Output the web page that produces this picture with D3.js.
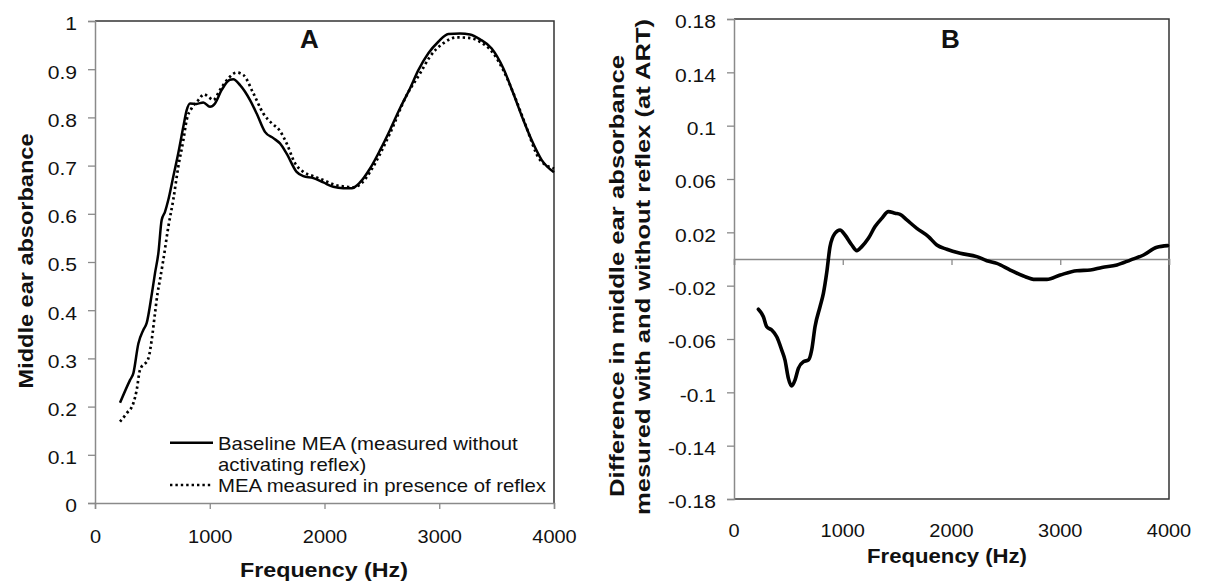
<!DOCTYPE html>
<html>
<head>
<meta charset="utf-8">
<script src="https://cdn.jsdelivr.net/npm/d3@7"></script>
<style>
html,body{margin:0;padding:0;background:#fff;}
svg{display:block;font-family:"Liberation Sans",Arial,sans-serif;}
</style>
</head>
<body>
<svg id="chart" width="1206" height="585"></svg>
<script>
// ---------- DATA ----------
const baseFreq = [218,305,334,378,421,450,494,523,552,581,610,639,682,726,770,799,828,886,944,1002,1046,1104,1176,1205,1264,1351,1409,1481,1554,1612,1670,1757,1815,1903,1990,2077,2164,2237,2309,2397,2484,2571,2658,2745,2818,2905,2992,3079,3181,3268,3355,3457,3558,3645,3732,3805,3892,4000];
const baseVals = [0.208,0.255,0.269,0.331,0.359,0.373,0.432,0.477,0.518,0.587,0.604,0.629,0.677,0.726,0.781,0.815,0.829,0.828,0.831,0.822,0.829,0.857,0.878,0.879,0.867,0.836,0.808,0.770,0.757,0.746,0.725,0.687,0.678,0.674,0.665,0.656,0.653,0.653,0.665,0.694,0.732,0.774,0.819,0.860,0.898,0.933,0.957,0.973,0.974,0.972,0.962,0.943,0.902,0.850,0.795,0.753,0.712,0.686];

const reflexFreq = [218,276,334,363,392,465,494,523,545,566,595,639,682,726,770,799,842,901,950,988,1031,1089,1162,1235,1293,1380,1467,1539,1612,1670,1743,1815,1903,1990,2092,2193,2250,2320,2400,2484,2571,2716,2832,2919,3036,3152,3254,3355,3471,3558,3650,3740,3878,4000];
const reflexVals = [0.169,0.186,0.207,0.234,0.276,0.300,0.338,0.394,0.435,0.463,0.504,0.573,0.629,0.698,0.753,0.795,0.819,0.836,0.848,0.843,0.836,0.857,0.881,0.893,0.888,0.850,0.808,0.788,0.772,0.746,0.705,0.687,0.678,0.670,0.660,0.656,0.655,0.663,0.688,0.724,0.767,0.846,0.891,0.926,0.954,0.966,0.965,0.957,0.933,0.898,0.848,0.792,0.712,0.694];

const diffFreq = [224,270,301,347,393,439,469,500,531,561,592,638,684,715,745,791,822,853,883,929,975,1021,1083,1129,1175,1236,1297,1359,1420,1481,1527,1589,1681,1788,1865,1957,2080,2233,2325,2417,2540,2662,2770,2877,3000,3153,3276,3383,3521,3644,3766,3889,3987];
const diffVals = [-0.0377,-0.0433,-0.0508,-0.0533,-0.0583,-0.0683,-0.0758,-0.0895,-0.0953,-0.0908,-0.082,-0.077,-0.0758,-0.068,-0.0508,-0.0358,-0.0258,-0.0100,0.0093,0.0193,0.0218,0.018,0.0105,0.0063,0.0093,0.0155,0.0243,0.0305,0.0355,0.0343,0.0335,0.0293,0.023,0.0168,0.0105,0.0073,0.0043,0.0018,-0.0013,-0.0033,-0.0083,-0.0128,-0.0153,-0.0153,-0.012,-0.0088,-0.0083,-0.0063,-0.0045,-0.0008,0.003,0.0088,0.01];

const xTicks = [0,1000,2000,3000,4000];
const yTicksA = [0,0.1,0.2,0.3,0.4,0.5,0.6,0.7,0.8,0.9,1];
const yTicksB = [-0.18,-0.14,-0.1,-0.06,-0.02,0.02,0.06,0.1,0.14,0.18];

const legendLabels = ["Baseline MEA (measured without", "activating reflex)", "MEA measured in presence of reflex"];

// ---------- DRAW ----------
const svg = d3.select("#chart");
const AXIS = "#8a8a8a", BORDER = "#333", TXT = "#111";

function fmtTick(v){ return String(+v.toFixed(2)); }
// widen glyphs horizontally like the reference rendering
function stretch(sel, factor){
  sel.each(function(){
    const len = this.getComputedTextLength();
    d3.select(this).attr("textLength", len*factor).attr("lengthAdjust","spacingAndGlyphs");
  });
}
function fixedLen(sel, len){
  sel.attr("textLength", len).attr("lengthAdjust","spacingAndGlyphs");
}

// Panel A
const A = {l:95, r:554, t:21, b:503};
const xA = d3.scaleLinear().domain([0,4000]).range([A.l, A.r]);
const yA = d3.scaleLinear().domain([0,1]).range([A.b, A.t]);

const gA = svg.append("g");
gA.append("path").attr("d", `M${A.l},${A.t}H${A.r}V${A.b}`).attr("fill","none").attr("stroke",BORDER).attr("stroke-width",1.5);

const axLA = gA.append("g").attr("transform",`translate(${A.l},0)`)
  .call(d3.axisLeft(yA).tickValues(yTicksA).tickSize(7).tickPadding(11).tickFormat(fmtTick));
const axBA = gA.append("g").attr("transform",`translate(0,${A.b})`)
  .call(d3.axisBottom(xA).tickValues(xTicks).tickSize(6).tickPadding(21).tickFormat(d3.format("d")));
[axLA, axBA].forEach(ax=>{
  ax.selectAll("path.domain").attr("stroke",AXIS).attr("stroke-width",1.5);
  ax.selectAll(".tick line").attr("stroke",AXIS).attr("stroke-width",1.3);
  ax.selectAll("text").attr("font-size",18.5).attr("fill",TXT)
    .attr("font-family","Liberation Sans, Arial, sans-serif");
});
axLA.selectAll("text").attr("dy","0.48em");
axBA.selectAll("text").attr("dy","0.71em");
stretch(axLA.selectAll("text"), 1.14);
stretch(axBA.selectAll("text"), 1.08);

const lineA = d3.line().x(d=>xA(d[0])).y(d=>yA(d[1])).curve(d3.curveMonotoneX);
gA.append("path").datum(baseFreq.map((f,i)=>[f,baseVals[i]]))
  .attr("d",lineA).attr("fill","none").attr("stroke","#000").attr("stroke-width",2.5);
gA.append("path").datum(reflexFreq.map((f,i)=>[f,reflexVals[i]]))
  .attr("d",lineA).attr("fill","none").attr("stroke","#000").attr("stroke-width",2.7)
  .attr("stroke-dasharray","2.4,3");

gA.append("text").attr("x",309.5).attr("y",48).attr("text-anchor","middle")
  .attr("font-weight","bold").attr("font-size",26).attr("fill",TXT).text("A");

// legend
const lg = gA.append("g");
lg.append("line").attr("x1",170).attr("x2",213).attr("y1",442.7).attr("y2",442.7).attr("stroke","#000").attr("stroke-width",2.5);
lg.append("line").attr("x1",170).attr("x2",213).attr("y1",485).attr("y2",485).attr("stroke","#000").attr("stroke-width",2.7).attr("stroke-dasharray","2.4,3");
const lgText = lg.selectAll("text.lg").data(legendLabels).join("text").attr("class","lg")
  .attr("x",218).attr("y",(d,i)=>[450, 470.8, 491.5][i])
  .attr("font-size",18.5).attr("fill",TXT).text(d=>d);
stretch(lgText, 1.1);

// axis titles A
fixedLen(svg.append("text").attr("transform","translate(33,261) rotate(-90)").attr("text-anchor","middle")
  .attr("font-weight","bold").attr("font-size",20.5).attr("fill",TXT).text("Middle ear absorbance"), 255);
fixedLen(svg.append("text").attr("x",324).attr("y",577).attr("text-anchor","middle")
  .attr("font-weight","bold").attr("font-size",20.5).attr("fill",TXT).text("Frequency (Hz)"), 168);

// Panel B
const B = {l:734, r:1169, t:19, b:499};
const xB = d3.scaleLinear().domain([0,4000]).range([B.l, B.r]);
const yB = d3.scaleLinear().domain([-0.18,0.18]).range([B.b, B.t]);
const gB = svg.append("g");
gB.append("path").attr("d",`M${B.l},${B.t}H${B.r}V${B.b}H${B.l}`).attr("fill","none").attr("stroke",BORDER).attr("stroke-width",1.5);

const axLB = gB.append("g").attr("transform",`translate(${B.l},0)`)
  .call(d3.axisLeft(yB).tickValues(yTicksB).tickSize(7).tickPadding(11).tickFormat(fmtTick));
const axZB = gB.append("g").attr("transform",`translate(0,${yB(0)})`)
  .call(d3.axisBottom(xB).tickValues(xTicks).tickSize(6).tickFormat(""));
[axLB, axZB].forEach(ax=>{
  ax.selectAll("path.domain").attr("stroke",AXIS).attr("stroke-width",1.5);
  ax.selectAll(".tick line").attr("stroke",AXIS).attr("stroke-width",1.3);
});
axLB.selectAll("text").attr("font-size",18.5).attr("fill",TXT)
  .attr("font-family","Liberation Sans, Arial, sans-serif").attr("dy","0.48em");
stretch(axLB.selectAll("text"), 1.14);
// x tick labels placed low, below the plot area
const xLabB = gB.append("g").selectAll("text").data(xTicks).join("text")
  .attr("x",d=>xB(d)).attr("y",536.7).attr("text-anchor","middle")
  .attr("font-size",18.5).attr("fill",TXT)
  .text(d=>d3.format("d")(d));
stretch(xLabB, 1.08);

const lineB = d3.line().x(d=>xB(d[0])).y(d=>yB(d[1])).curve(d3.curveMonotoneX);
gB.append("path").datum(diffFreq.map((f,i)=>[f,diffVals[i]]))
  .attr("d",lineB).attr("fill","none").attr("stroke","#000").attr("stroke-width",3.6)
  .attr("stroke-linejoin","round").attr("stroke-linecap","round");

gB.append("text").attr("x",950.5).attr("y",48).attr("text-anchor","middle")
  .attr("font-weight","bold").attr("font-size",26).attr("fill",TXT).text("B");

fixedLen(svg.append("text").attr("transform","translate(624,276) rotate(-90)").attr("text-anchor","middle")
  .attr("font-weight","bold").attr("font-size",20.5).attr("fill",TXT).text("Difference in middle ear absorbance"), 442);
fixedLen(svg.append("text").attr("transform","translate(650,267) rotate(-90)").attr("text-anchor","middle")
  .attr("font-weight","bold").attr("font-size",20.5).attr("fill",TXT).text("mesured with and without reflex (at ART)"), 496);
fixedLen(svg.append("text").attr("x",947).attr("y",563).attr("text-anchor","middle")
  .attr("font-weight","bold").attr("font-size",20.5).attr("fill",TXT).text("Frequency (Hz)"), 160);
</script>
</body>
</html>
